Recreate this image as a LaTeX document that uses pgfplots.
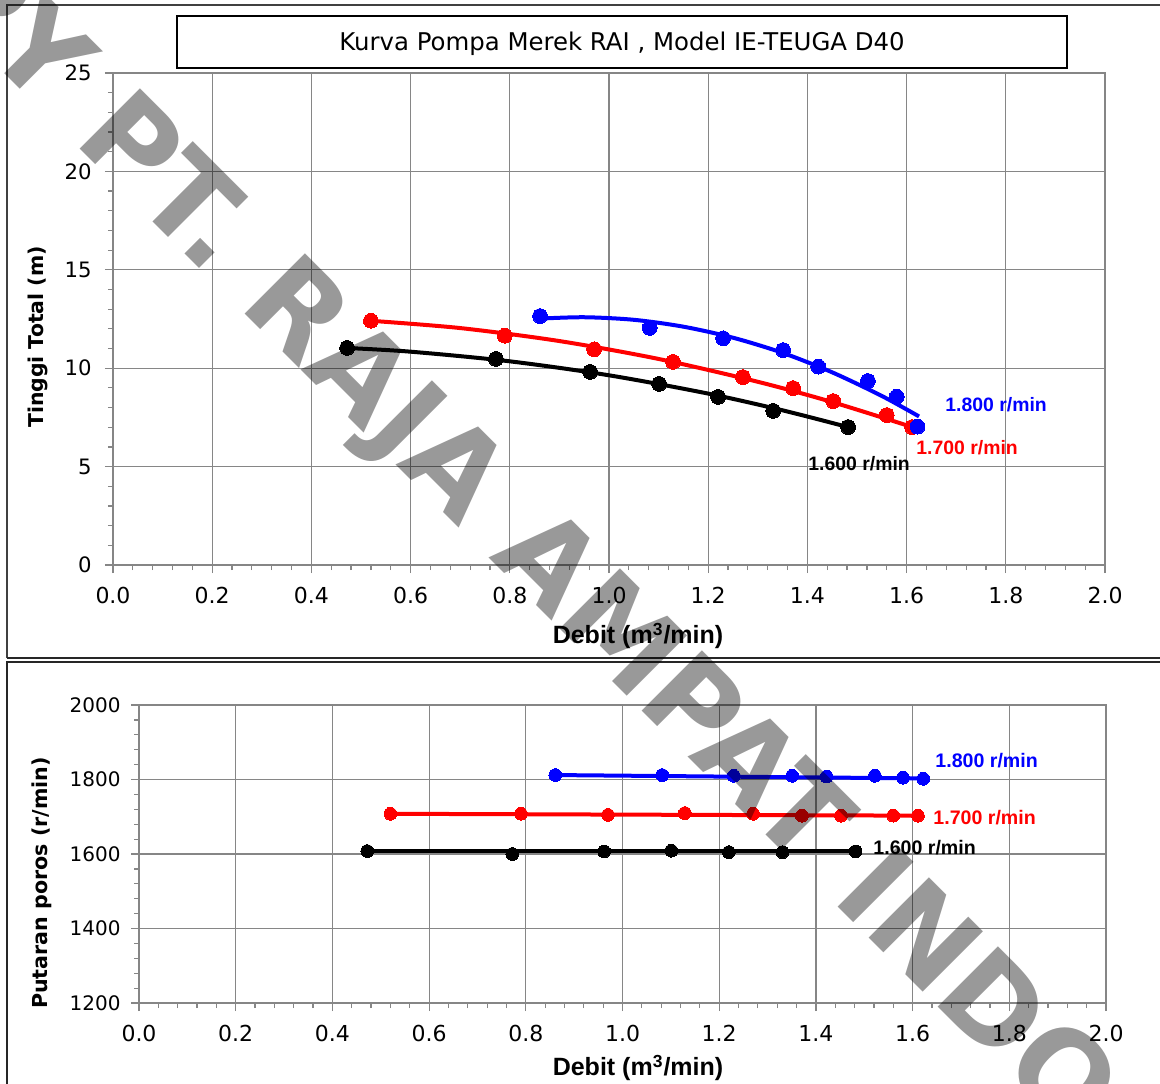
\documentclass[border=0pt]{standalone}
\usepackage{fontspec}
\setmainfont{DejaVu Sans}
\newfontfamily\arialfont{Liberation Sans}
\usepackage{pgfplots}
\pgfplotsset{compat=1.18}

\definecolor{gridgray}{RGB}{134,134,134}
\definecolor{pblue}{RGB}{0,0,255}
\definecolor{pred}{RGB}{255,0,0}

% 1 px of the reference = 0.5pt
\pgfplotsset{
  pump/.style={
    scale only axis,
    axis line style={gridgray, line width=0.7pt},
    grid=major, major grid style={gridgray, line width=0.6pt},
    tick align=outside, tick style={gridgray, line width=0.6pt},
    major tick length=4pt, minor tick length=2.5pt,
    minor x tick num=4, minor y tick num=4,
    xtick pos=bottom, ytick pos=left,
    xmin=0, xmax=2,
    xtick={0,0.2,0.4,0.6,0.8,1,1.2,1.4,1.6,1.8,2},
    /pgf/number format/assume math mode=true,
    /pgf/number format/1000 sep={},
    x tick label style={/pgf/number format/fixed, /pgf/number format/fixed zerofill,
      /pgf/number format/precision=1,
      font=\fontsize{11}{13}\selectfont, anchor=center, yshift=-11pt},
    y tick label style={anchor=east, inner sep=0pt},
  },
  trend/.style={smooth, no marks, line width=2pt},
  pts/.style={only marks, mark=*, mark size=3.7pt, mark options={line width=0pt}},
}

\begin{document}
\begin{tikzpicture}
\useasboundingbox (0,0) rectangle (580pt,-541.5pt);

% frames
\draw[black!75, line width=0.9pt] (3.5pt,-329pt) -- (3.5pt,-2.5pt) -- (585pt,-2.5pt);
\draw[black!85, line width=0.9pt] (3.5pt,-329pt) -- (585pt,-329pt);
\draw[black!85, line width=0.9pt] (3.5pt,-545pt) -- (3.5pt,-331pt) -- (585pt,-331pt);

% title box
\draw[black, line width=1pt] (88.5pt,-8pt) rectangle (533.5pt,-34pt);
\node[font=\fontsize{12.2}{14}\selectfont] at (311pt,-22pt) {Kurva Pompa Merek RAI , Model IE-TEUGA D40};

% ---- head curve
\begin{axis}[pump,
  at={(56.5pt,-282.5pt)}, anchor=south west,
  width=496pt, height=246pt,
  ymin=0, ymax=25, ytick={0,5,10,15,20,25},
  y tick label style={font=\fontsize{10.6}{12}\selectfont, xshift=-6.5pt},
]
% 1.600 r/min
\addplot[trend, black] coordinates {(0.47,11.03)(0.6,10.84)(0.8,10.35)(1.0,9.64)(1.2,8.71)(1.35,7.86)(1.48,7.02)};
\addplot[pts, black] coordinates {(0.472,11.03)(0.772,10.47)(0.962,9.81)(1.101,9.20)(1.220,8.54)(1.331,7.83)(1.482,7.01)};
% 1.700 r/min
\addplot[trend, pred] coordinates {(0.52,12.41)(0.7,12.04)(0.9,11.38)(1.1,10.47)(1.3,9.31)(1.45,8.28)(1.61,7.02)};
\addplot[pts, pred] coordinates {(0.520,12.41)(0.790,11.65)(0.970,10.96)(1.129,10.32)(1.270,9.55)(1.371,8.99)(1.452,8.33)(1.560,7.62)(1.611,7.01)};
% 1.800 r/min
\addplot[trend, pblue] coordinates {(0.86,12.52)(0.95,12.59)(1.05,12.46)(1.15,12.11)(1.25,11.55)(1.35,10.78)(1.45,9.79)(1.55,8.59)(1.625,7.55)};
\addplot[pts, pblue] coordinates {(0.861,12.65)(1.082,12.05)(1.230,11.52)(1.351,10.92)(1.422,10.08)(1.522,9.35)(1.580,8.55)(1.622,7.03)};
\end{axis}

\node[rotate=90, font=\fontsize{10.2}{12}\selectfont\bfseries] at (19pt,-168.5pt) {Tinggi Total (m)};
\node[font=\arialfont\bfseries\fontsize{12.5}{14}\selectfont] at (319pt,-318pt) {Debit (m\textsuperscript{3}/min)};
\node[anchor=west, inner sep=0pt, text=pblue, font=\arialfont\bfseries\fontsize{9.7}{11}\selectfont] at (472.5pt,-202.5pt) {1.800 r/min};
\node[anchor=west, inner sep=0pt, text=pred, font=\arialfont\bfseries\fontsize{9.7}{11}\selectfont] at (458pt,-224pt) {1.700 r/min};
\node[anchor=west, inner sep=0pt, text=black, font=\arialfont\bfseries\fontsize{9.7}{11}\selectfont] at (404pt,-232pt) {1.600 r/min};

% ---- speed
\begin{axis}[pump,
  at={(69.5pt,-501.5pt)}, anchor=south west,
  width=483.5pt, height=149pt,
  ymin=1200, ymax=2000, ytick={1200,1400,1600,1800,2000},
  y tick label style={font=\fontsize{10}{12}\selectfont, xshift=-5pt},
]
\addplot[no marks, line width=2pt, black] coordinates {(0.47,1607)(1.48,1607)};
\addplot[pts, black, mark size=3.2pt] coordinates {(0.472,1608)(0.772,1600)(0.962,1607)(1.101,1609)(1.220,1605)(1.331,1605)(1.482,1607)};
\addplot[no marks, line width=2pt, pred] coordinates {(0.52,1708)(1.61,1703)};
\addplot[pts, pred, mark size=3.2pt] coordinates {(0.520,1708)(0.790,1708)(0.970,1705)(1.129,1710)(1.270,1708)(1.371,1703)(1.452,1703)(1.560,1703)(1.611,1703)};
\addplot[no marks, line width=2pt, pblue] coordinates {(0.86,1812)(1.62,1803)};
\addplot[pts, pblue, mark size=3.2pt] coordinates {(0.861,1812)(1.082,1812)(1.230,1810)(1.351,1810)(1.422,1808)(1.522,1810)(1.580,1805)(1.622,1802)};
\end{axis}

\node[rotate=90, font=\fontsize{10.3}{12}\selectfont\bfseries] at (21pt,-441.5pt) {Putaran poros (r/min)};
\node[font=\arialfont\bfseries\fontsize{12.5}{14}\selectfont] at (319pt,-534pt) {Debit (m\textsuperscript{3}/min)};
\node[anchor=west, inner sep=0pt, text=pblue, font=\arialfont\bfseries\fontsize{9.8}{11}\selectfont] at (467.5pt,-380.5pt) {1.800 r/min};
\node[anchor=west, inner sep=0pt, text=pred, font=\arialfont\bfseries\fontsize{9.8}{11}\selectfont] at (466.5pt,-409pt) {1.700 r/min};
\node[anchor=west, inner sep=0pt, text=black, font=\arialfont\bfseries\fontsize{9.8}{11}\selectfont] at (436.5pt,-424pt) {1.600 r/min};

% watermark
\node[overlay, rotate=-45, anchor=base west, inner sep=0pt, text=black, text opacity=0.4,
  font=\fontsize{58.5}{60}\selectfont\bfseries] at (36pt,-70.5pt) {PT. RAJA AMPAT INDONESIA};
\node[overlay, rotate=-45, anchor=base east, inner sep=0pt, text=black, text opacity=0.4,
  font=\fontsize{58.5}{60}\selectfont\bfseries] at (36pt,-70.5pt) {COPY\hspace*{0.35em}};
\end{tikzpicture}
\end{document}
